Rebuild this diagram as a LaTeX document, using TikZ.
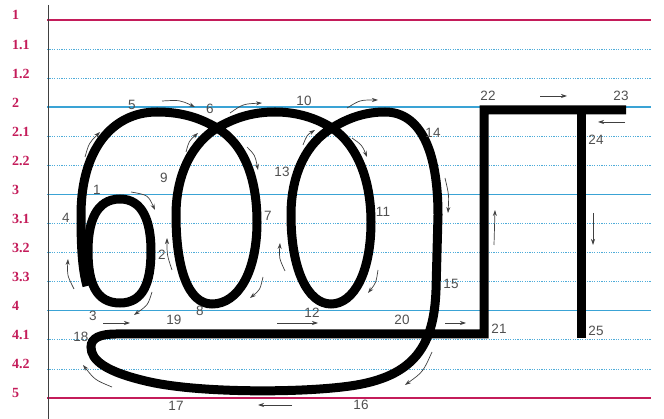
\documentclass[tikz,border=0pt]{standalone}
\usepackage{fontspec}
\setmainfont{Liberation Serif}
\newfontfamily\numfont{Liberation Sans}
\usepackage{xcolor}
\usetikzlibrary{arrows.meta}
\definecolor{rowred}{HTML}{C41C5A}
\definecolor{lineblue}{HTML}{3AA3D5}
\definecolor{numgray}{HTML}{505050}
\tikzset{
  rowlbl/.style={anchor=base west, font=\bfseries\fontsize{14}{14}\selectfont, text=rowred, inner sep=0pt},
  numlbl/.style={font=\numfont\fontsize{13.5}{13.5}\selectfont, text=numgray, inner sep=0pt},
  redline/.style={rowred, line width=1.6pt},
  blueline/.style={lineblue, line width=1.4pt},
  dotline/.style={lineblue!90, line width=0.8pt, dash pattern=on 1.2pt off 1.2pt},
  pen/.style={line width=9pt, black, line join=miter},
  dirarr/.style={-{Stealth[length=6pt,width=4pt]}, line width=0.7pt, black!75},
}

\begin{document}
\begin{tikzpicture}[x=1pt,y=-1pt]
\useasboundingbox (0,0) rectangle (664,419);
% ruled lines and their labels
\node[rowlbl] (r1)  at (12,20)    {1};
\node[rowlbl] (r11) at (12,49.1)  {1.1};
\node[rowlbl] (r12) at (12,78.2)  {1.2};
\node[rowlbl] (r2)  at (12,107.2) {2};
\node[rowlbl] (r21) at (12,136.3) {2.1};
\node[rowlbl] (r22) at (12,165.4) {2.2};
\node[rowlbl] (r3)  at (12,194.5) {3};
\node[rowlbl] (r31) at (12,223.6) {3.1};
\node[rowlbl] (r32) at (12,252.6) {3.2};
\node[rowlbl] (r33) at (12,281.7) {3.3};
\node[rowlbl] (r4)  at (12,310.8) {4};
\node[rowlbl] (r41) at (12,339.9) {4.1};
\node[rowlbl] (r42) at (12,369)   {4.2};
\node[rowlbl] (r5)  at (12,398)   {5};
\draw[redline]  (47,20)    -- (651,20);
\draw[dotline]  (47,49.1)  -- (651,49.1);
\draw[dotline]  (47,78.2)  -- (651,78.2);
\draw[blueline] (47,107.2) -- (651,107.2);
\draw[dotline]  (47,136.3) -- (651,136.3);
\draw[dotline]  (47,165.4) -- (651,165.4);
\draw[blueline] (47,194.5) -- (651,194.5);
\draw[dotline]  (47,223.6) -- (651,223.6);
\draw[dotline]  (47,252.6) -- (651,252.6);
\draw[dotline]  (47,281.7) -- (651,281.7);
\draw[blueline] (47,310.8) -- (651,310.8);
\draw[dotline]  (47,339.9) -- (651,339.9);
\draw[dotline]  (47,369)   -- (651,369);
\draw[redline]  (47,398)   -- (651,398);
\draw[black!75, line width=0.9pt] (48,5) -- (48,419);

% the letters
\draw[pen] (120,199) .. controls (143,199) and (151,222) .. (151,251)
  .. controls (151,283) and (143,303) .. (120,303)
  .. controls (96,303) and (88,283) .. (88,251)
  .. controls (88,222) and (96,199) .. (120,199) -- cycle;
\draw[pen] (87,286) .. controls (82,268) and (81,245) .. (81,215)
  .. controls (81,150) and (112,112) .. (157,112)
  .. controls (182,112) and (200,118) .. (217,128)
  .. controls (244,144) and (257,178) .. (257,222)
  .. controls (257,272) and (238,304) .. (212,304)
  .. controls (188,304) and (176,268) .. (176,215)
  .. controls (176,172) and (194,142) .. (217,128)
  .. controls (236,117) and (254,112) .. (275,112)
  .. controls (297,112) and (316,118) .. (332,128)
  .. controls (356,144) and (371,178) .. (371,222)
  .. controls (371,272) and (354,304) .. (331,304)
  .. controls (308,304) and (291,270) .. (291,215)
  .. controls (291,172) and (308,142) .. (332,128)
  .. controls (348,118) and (365,112) .. (385,112)
  .. controls (420,112) and (438,150) .. (438,215)
  -- (436,290)
  .. controls (434,345) and (415,377) .. (350,386)
  .. controls (300,393) and (200,393) .. (150,382)
  .. controls (105,372) and (91,360) .. (91,347)
  .. controls (91,338) and (100,334) .. (116,334)
  -- (484,334) -- (484,110) -- (626,110);
\draw[pen] (581,106) -- (581,338);

% stroke numbers
\node[numlbl] (n1)  at (97,190)  {1};
\node[numlbl] (n2)  at (162,255) {2};
\node[numlbl] (n3)  at (93,316)  {3};
\node[numlbl] (n4)  at (66,218)  {4};
\node[numlbl] (n5)  at (132,105) {5};
\node[numlbl] (n6)  at (210,109) {6};
\node[numlbl] (n7)  at (268,216) {7};
\node[numlbl] (n8)  at (200,311) {8};
\node[numlbl] (n9)  at (164,178) {9};
\node[numlbl] (n10) at (304,101) {10};
\node[numlbl] (n11) at (383,212) {11};
\node[numlbl] (n12) at (312,313) {12};
\node[numlbl] (n13) at (282,172) {13};
\node[numlbl] (n14) at (433,133) {14};
\node[numlbl] (n15) at (451,284) {15};
\node[numlbl] (n16) at (361,405) {16};
\node[numlbl] (n17) at (176,406) {17};
\node[numlbl] (n18) at (81,337)  {18};
\node[numlbl] (n19) at (174,320) {19};
\node[numlbl] (n20) at (402,320) {20};
\node[numlbl] (n21) at (499,329) {21};
\node[numlbl] (n22) at (488,96)  {22};
\node[numlbl] (n23) at (621,96)  {23};
\node[numlbl] (n24) at (596,140) {24};
\node[numlbl] (n25) at (596,331) {25};

% direction arrows
\draw[dirarr] (131,192) .. controls (148,195) .. (155,210);
\draw[dirarr] (74,289) .. controls (67,275) .. (68,259);
\draw[dirarr] (152,292) .. controls (148,305) .. (134,315);
\draw[dirarr] (85,157) .. controls (89,143) .. (100,132);
\draw[dirarr] (162,101) .. controls (180,100) .. (195,107);
\draw[dirarr] (186,152) .. controls (189,141) .. (198,133);
\draw[dirarr] (230,113) .. controls (243,104) .. (262,103);
\draw[dirarr] (247,147) .. controls (255,155) .. (258,170);
\draw[dirarr] (172,270) .. controls (167,255) .. (167,238);
\draw[dirarr] (263,277) .. controls (260,290) .. (250,298);
\draw[dirarr] (285,271) .. controls (279,258) .. (280,243);
\draw[dirarr] (303,145) .. controls (307,135) .. (315,130);
\draw[dirarr] (347,108) .. controls (360,100) .. (378,100);
\draw[dirarr] (352,138) .. controls (362,145) .. (367,157);
\draw[dirarr] (378,270) .. controls (376,283) .. (368,293);
\draw[dirarr] (445,178) .. controls (449,195) .. (448,213);
\draw[dirarr] (432,352) .. controls (423,372) .. (405,385);
\draw[dirarr] (292,405) -- (258,405);
\draw[dirarr] (112,387) .. controls (95,380) .. (83,365);
\draw[dirarr] (103,323) -- (130,323);
\draw[dirarr] (277,323) -- (318,323);
\draw[dirarr] (445,323) -- (466,323);
\draw[dirarr] (494,245) -- (495,210);
\draw[dirarr] (540,96) -- (567,96);
\draw[dirarr] (625,122) -- (598,122);
\draw[dirarr] (593,213) -- (593,245);
\end{tikzpicture}
\end{document}
